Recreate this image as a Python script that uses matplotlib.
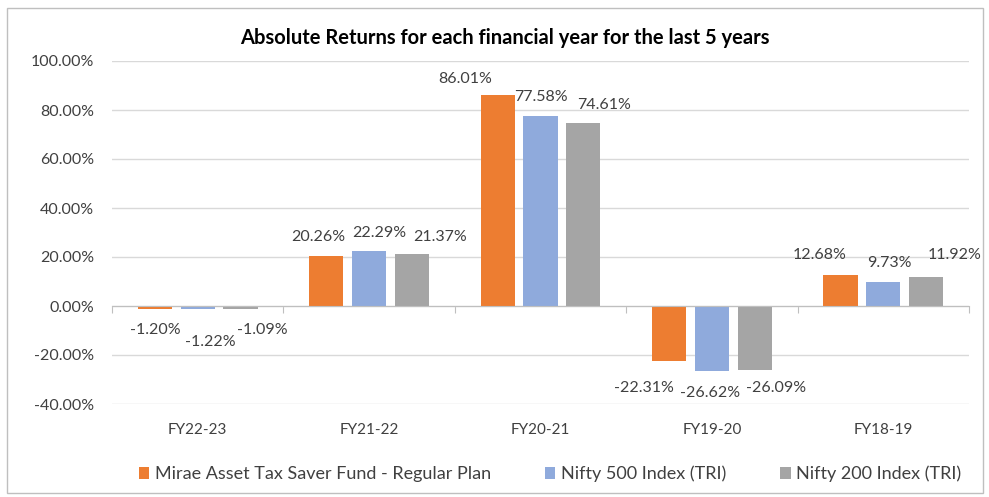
import matplotlib
matplotlib.use('Agg')
import matplotlib.pyplot as plt
import numpy as np
from matplotlib.patches import Rectangle

plt.rcParams['font.family'] = ['Lato', 'DejaVu Sans']

categories = ['FY22-23', 'FY21-22', 'FY20-21', 'FY19-20', 'FY18-19']
series_names = ['Mirae Asset Tax Saver Fund - Regular Plan',
                'Nifty 500 Index (TRI)', 'Nifty 200 Index (TRI)']
mirae = [-1.20, 20.26, 86.01, -22.31, 12.68]
nifty500 = [-1.22, 22.29, 77.58, -26.62, 9.73]
nifty200 = [-1.09, 21.37, 74.61, -26.09, 11.92]

colors = ['#ED7D31', '#8FAADC', '#A5A5A5']

# label nudges in pixels (Excel spreads overlapping labels apart)
label_dx = [[0, 13, 22], [-8, 10, 28], [-32, 0, 21], [-25, -2, 21], [-21, 6, 28]]
label_dy = [[21, 33, 21], [19, 18, 17], [16, 19, 18], [27, 22, 18], [20, 19, 22]]


def plot_fig():
    fig = plt.figure(figsize=(9.89, 4.97), dpi=100)
    ax = fig.add_axes([112 / 989, 1 - 404 / 497, 857 / 989, 343 / 497])

    x = np.arange(len(categories))
    width = 0.2
    pitch = 0.25
    data = [mirae, nifty500, nifty200]
    for j, (vals, name, c) in enumerate(zip(data, series_names, colors)):
        pos = x + (j - 1) * pitch
        ax.bar(pos, vals, width=width, color=c, label=name, zorder=2)
        for i, v in enumerate(vals):
            sign = 1 if v >= 0 else -1
            ax.annotate(f'{v:.2f}%', (pos[i], v),
                        xytext=(label_dx[i][j], sign * label_dy[i][j]),
                        textcoords='offset pixels', ha='center', va='center',
                        fontsize=11.5, color='#404040', zorder=3)

    ax.set_xlim(-0.5, len(categories) - 0.5)
    ax.set_ylim(-40, 100)
    ax.set_yticks(np.arange(-40, 101, 20))
    ax.set_yticklabels([f'{t:.2f}%' for t in np.arange(-40, 101, 20)],
                       fontsize=11.5, color='#404040')
    ax.tick_params(axis='y', length=0, pad=13)
    ax.grid(axis='y', color='#d9d9d9', linewidth=1, zorder=0)

    for s in ['top', 'right', 'left']:
        ax.spines[s].set_visible(False)
    ax.spines['bottom'].set_position(('data', 0))
    ax.spines['bottom'].set_color('#bfbfbf')
    ax.spines['bottom'].set_zorder(2.5)
    ax.set_xticks(np.arange(-0.5, len(categories)))
    ax.set_xticklabels([])
    ax.tick_params(axis='x', length=5, color='#bfbfbf', direction='out')

    for i, cat in enumerate(categories):
        ax.annotate(cat, (i, 0), xycoords=('data', 'axes fraction'),
                    xytext=(0, -26), textcoords='offset pixels',
                    ha='center', va='center', fontsize=11, color='#404040')

    fig.text(505 / 989, 1 - 38 / 497,
             'Absolute Returns for each financial year for the last 5 years',
             ha='center', va='center', fontsize=14.5, fontweight='bold',
             color='black')

    handles, labels = ax.get_legend_handles_labels()
    fig.legend(handles, labels, loc='center', ncol=3, frameon=False,
               bbox_to_anchor=(550 / 989, 1 - 474 / 497), fontsize=13,
               handlelength=0.58, handleheight=0.58, handletextpad=0.3,
               columnspacing=3.0, labelcolor='#404040')

    fig.patches.append(Rectangle((7 / 989, 4 / 497), 976 / 989, 485 / 497,
                                 transform=fig.transFigure, fill=False,
                                 edgecolor='#bfbfbf', linewidth=1))

    fig.savefig('out.png', dpi=100)


if __name__ == '__main__':
    plot_fig()
